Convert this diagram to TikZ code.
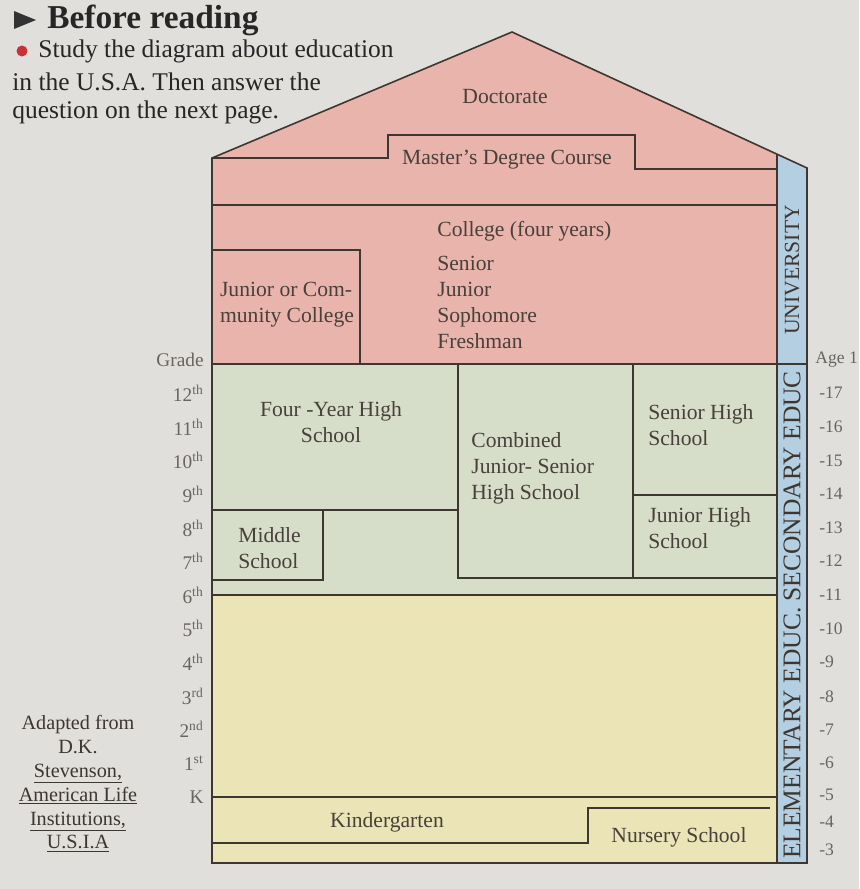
\documentclass[tikz,border=0pt]{standalone}
\usepackage{fontspec}
\setmainfont{Liberation Serif}
\usepackage{xcolor}
\usepackage{tikz}
\usetikzlibrary{positioning, calc}
\definecolor{mypage}{RGB}{224,223,219}
\definecolor{mypink}{RGB}{233,180,172}
\definecolor{mygreen}{RGB}{214,221,200}
\definecolor{myyellow}{RGB}{235,228,182}
\definecolor{myblue}{RGB}{180,207,226}
\definecolor{mydark}{RGB}{62,54,48}
\definecolor{myink}{RGB}{72,64,58}
\definecolor{mygrey}{RGB}{105,100,96}
\definecolor{myred}{RGB}{200,50,55}
\tikzset{
  wall/.style={draw=mydark, line width=0.9pt},
  roomtxt/.style={font=\fontsize{12.3}{14.8}\selectfont, text=myink,
    inner sep=0pt, align=left},
  bandtxt/.style={rotate=90, text=mydark, inner sep=0pt},
  gradetxt/.style={font=\fontsize{11}{13}\selectfont, text=mygrey,
    anchor=east, inner sep=0pt},
  agetxt/.style={font=\fontsize{10}{12}\selectfont, text=mygrey,
    anchor=west, inner sep=0pt},
  headtxt/.style={font=\fontsize{14.5}{17}\selectfont, text=black!85,
    anchor=west, inner sep=0pt}
}

\begin{document}
\begin{tikzpicture}[x=0.02cm, y=-0.02cm]
  \useasboundingbox[fill=mypage] (0,0) rectangle (859,889);

  % Header
  \fill[black!80] (14,11) -- (36,20) -- (14,29) -- cycle;
  \node[headtxt, font=\fontsize{19}{22}\selectfont\bfseries] (before) at (47,20) {Before reading};
  \fill[myred] (22,51) circle (5.5);
  \node[headtxt] (task1) at (38,51) {Study the diagram about education};
  \node[headtxt] (task2) at (12,82) {in the U.S.A. Then answer the};
  \node[headtxt] (task3) at (12,112) {question on the next page.};

  % Fills
  \fill[mypink] (212,158) -- (512,32) -- (777,154) -- (777,364) -- (212,364) -- cycle;
  \fill[mygreen] (212,364) rectangle (777,595);
  \fill[myyellow] (212,595) rectangle (777,863);
  \fill[myblue] (777,154) -- (807,168) -- (807,863) -- (777,863) -- cycle;

  % Outline of the house
  \draw[wall] (212,863) -- (212,158) -- (512,32) -- (807,168) -- (807,863) -- cycle;
  \draw[wall] (777,154) -- (777,863);

  % University
  \draw[wall] (212,158) -- (388,158) -- (388,135) -- (635,135) -- (635,169) -- (777,169);
  \draw[wall] (212,205) -- (777,205);
  \draw[wall] (212,250) -- (360,250) -- (360,364);
  \draw[wall] (212,364) -- (807,364);

  % Secondary
  \draw[wall] (212,510) -- (458,510);
  \draw[wall] (323,510) -- (323,580) -- (212,580);
  \draw[wall] (458,364) -- (458,578) -- (777,578);
  \draw[wall] (633,364) -- (633,578);
  \draw[wall] (633,495) -- (777,495);

  % Elementary
  \draw[wall] (212,595) -- (777,595);
  \draw[wall] (212,797) -- (777,797);
  \draw[wall] (212,843) -- (588,843) -- (588,808) -- (770,808);

  % Room names
  \node[roomtxt] (doctor) at (505,97) {Doctorate};
  \node[roomtxt] (master) at (507,160) {Master’s Degree Course};
  \node[roomtxt, anchor=west] (college) at (437,231) {College (four years)};
  \node[roomtxt, below=8pt of college.south west, anchor=north west] (years)
    {Senior\\Junior\\Sophomore\\Freshman};
  \node[roomtxt] (jrcollege) at (287,305) {Junior or Com-\\munity College};
  \node[roomtxt, align=center] (fouryear) at (331,422) {Four -Year High\\School};
  \node[roomtxt, anchor=west] (middle) at (238,548) {Middle\\School};
  \node[roomtxt, anchor=west] (combined) at (471,468) {Combined\\Junior- Senior\\High School};
  \node[roomtxt, anchor=west] (srhigh) at (648,425) {Senior High\\School};
  \node[roomtxt, anchor=west] (jrhigh) at (648,528) {Junior High\\School};
  \node[roomtxt] (kinder) at (387,822) {Kindergarten};
  \node[roomtxt] (nursery) at (679,837) {Nursery School};

  % Side band
  \node[bandtxt, font=\fontsize{12.3}{14}\selectfont] (univ) at (792,270) {UNIVERSITY};
  \node[bandtxt, font=\fontsize{14.5}{16}\selectfont] (school) at (792,615)
    {ELEMENTARY EDUC. SECONDARY EDUC};

  % Grades
  \foreach \g [count=\i from 0] in {Grade, 12\textsuperscript{th}, 11\textsuperscript{th},
      10\textsuperscript{th}, 9\textsuperscript{th}, 8\textsuperscript{th}, 7\textsuperscript{th},
      6\textsuperscript{th}, 5\textsuperscript{th}, 4\textsuperscript{th}, 3\textsuperscript{rd},
      2\textsuperscript{nd}, 1\textsuperscript{st}, K}
    \node[gradetxt] (grade\i) at (204,{360+33.6*\i}) {\g};

  % Ages
  \node[agetxt] (age0) at (815,360) {Age 1};
  \foreach \a/\y [count=\i] in {-17/393, -16/427, -15/461, -14/494, -13/528,
      -12/561, -11/595, -10/629, -9/662, -8/697, -7/730, -6/763, -5/795, -4/822, -3/850}
    \node[agetxt] (age\i) at (819,\y) {\a};

  % Source
  \node[font=\fontsize{11.5}{13.6}\selectfont, text=mydark, align=center, inner sep=0pt]
    (source) at (78,784) {Adapted from\\D.K.\\\underline{Stevenson,}\\\underline{American Life}\\
      \underline{Institutions,}\\\underline{U.S.I.A}};
\end{tikzpicture}
\end{document}
